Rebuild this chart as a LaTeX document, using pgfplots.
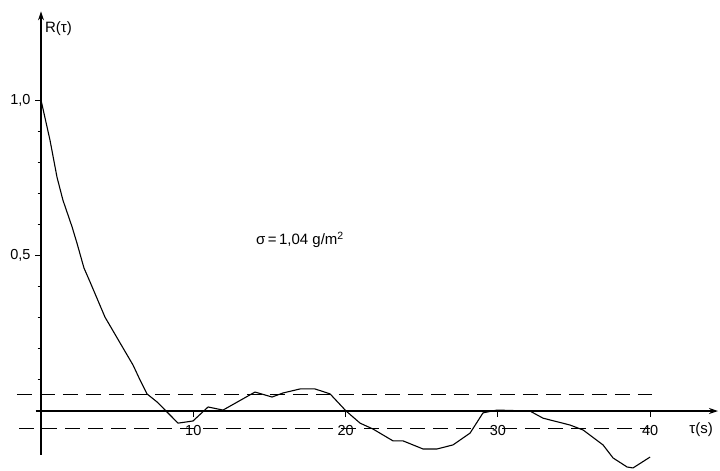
\documentclass[border=0pt]{standalone}
\usepackage{pgfplots}
\pgfplotsset{compat=1.18}
\usepackage{fontspec}
\setmainfont{Liberation Sans}
\usetikzlibrary{arrows.meta}

\begin{document}
\begin{tikzpicture}
\begin{axis}[
  x=15.23pt, y=311pt,
  axis lines=middle,
  axis line style={line width=1.3pt, -{Stealth[length=9pt,width=6pt]}},
  xmin=-0.35, xmax=44.45,
  ymin=-0.14, ymax=1.285,
  clip=false,
  tick align=outside,
  major tick length=6pt,
  minor tick length=3.5pt,
  tick style={line width=0.9pt, black},
  xtick={10,20,30,40},
  ytick={0.5,1},
  yticklabels={{0,5},{1,0}},
  minor ytick={0.1,0.2,0.3,0.4,0.6,0.7,0.8,0.9},
  /pgf/number format/assume math mode=true,
  ticklabel style={font=\fontsize{14.5}{16}\selectfont},
  xticklabel style={anchor=center, yshift=-13pt, fill=white, inner sep=1.5pt},
  yticklabel style={xshift=-1pt},
]
% fixed canvas
\path (axis cs:-2.692,1.3215) rectangle (axis cs:44.58,-0.1897);

% confidence band
\addplot[black, line width=0.8pt, dash pattern=on 15pt off 8pt]
  coordinates {(-1.58,0.055) (40.1,0.055)};
\addplot[black, line width=0.8pt, dash pattern=on 15pt off 8pt]
  coordinates {(-1.44,-0.055) (40.0,-0.055)};

% autocorrelation R(tau)
\addplot[black, line width=1.1pt, line join=round] coordinates {
  (0,1.0) (0.59,0.871) (1.05,0.752) (1.44,0.678) (2.04,0.592) (2.36,0.540)
  (2.82,0.460) (3.22,0.415) (4.20,0.302) (5.19,0.219) (6.04,0.148)
  (6.50,0.100) (6.96,0.055) (7.62,0.029) (8.27,-0.003) (9.00,-0.039)
  (9.98,-0.032) (10.97,0.013) (11.95,0.003) (14.05,0.061) (15.17,0.045)
  (15.89,0.058) (17.01,0.071) (17.99,0.071) (18.98,0.055) (20.03,0.0)
  (20.95,-0.039) (21.80,-0.058) (23.11,-0.096) (23.77,-0.096)
  (25.08,-0.122) (26.0,-0.122) (27.05,-0.109) (28.17,-0.071)
  (29.02,-0.006) (29.94,0.003) (32.1,0.0) (32.96,-0.023) (34.73,-0.045)
  (35.59,-0.061) (36.90,-0.109) (37.56,-0.151) (38.48,-0.180)
  (38.87,-0.183) (39.99,-0.148)
};

% labels
\node[anchor=west, font=\fontsize{15}{17}\selectfont, inner sep=0pt]
  at (axis cs:0.25,1.228) {R(τ)};
\node[font=\fontsize{15}{17}\selectfont]
  at (axis cs:43.34,-0.061) {τ(s)};
\node[font=\fontsize{15}{17}\selectfont]
  at (axis cs:17.0,0.55) {σ\,=\,1,04 g/m\textsuperscript{2}};
\end{axis}
\end{tikzpicture}
\end{document}
